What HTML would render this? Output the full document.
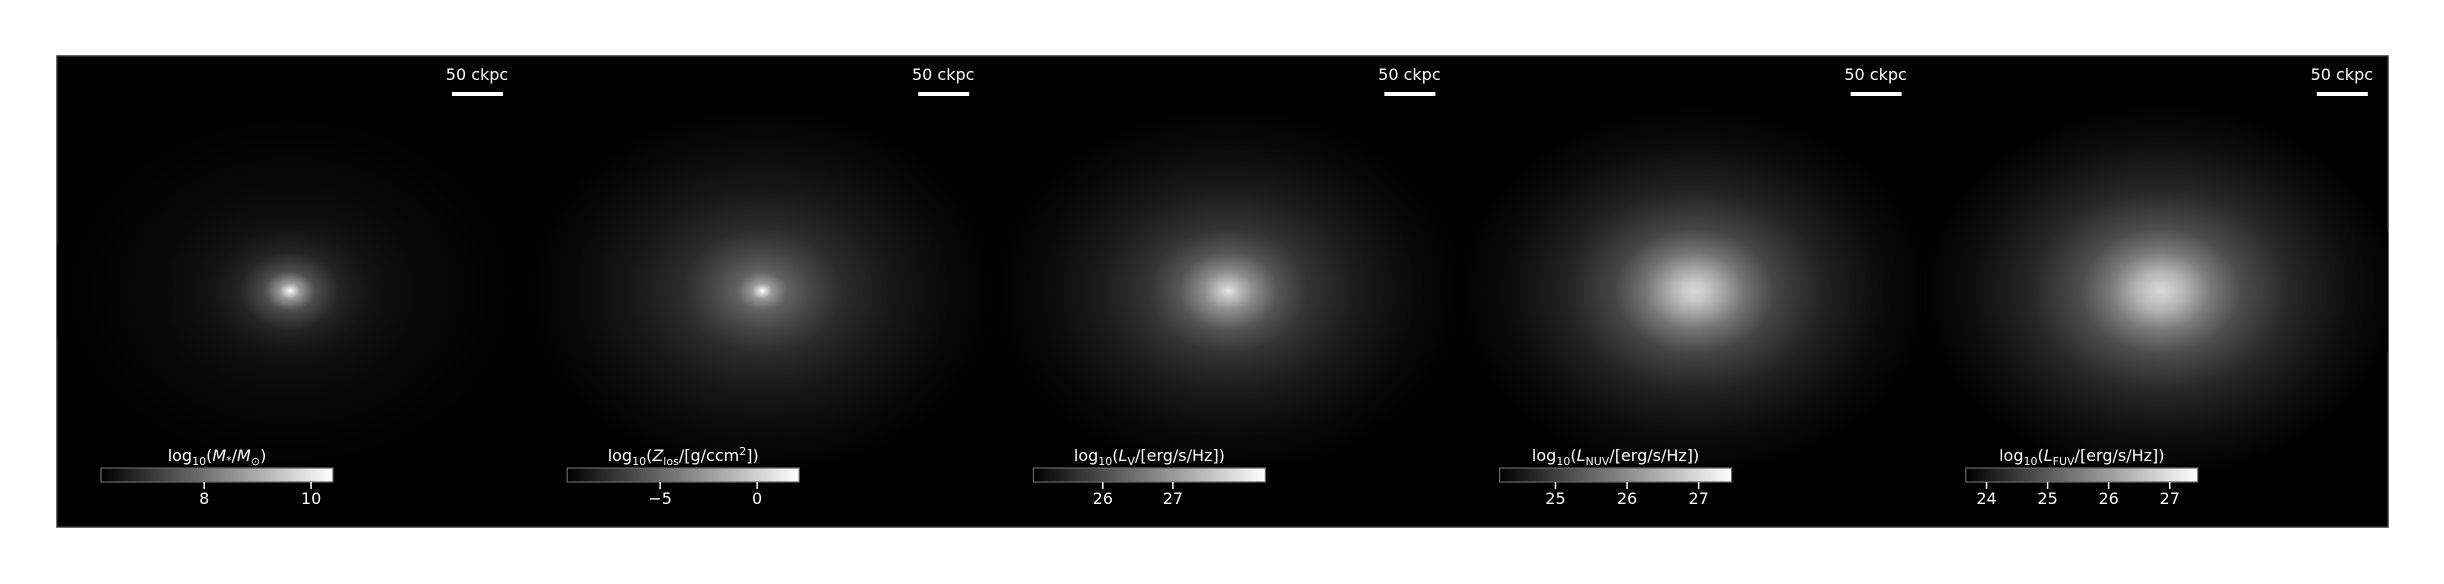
<!DOCTYPE html>
<html><head><meta charset="utf-8"><style>
html,body{margin:0;padding:0;background:#fff;}
svg{display:block;}
text{font-family:"DejaVu Sans","Liberation Sans",sans-serif;fill:#fff;}
</style></head><body>
<svg id="fig" width="2444" height="584" viewBox="0 0 2444 584" xmlns="http://www.w3.org/2000/svg">
<defs id="defs">
<linearGradient id="cmap" x1="0" x2="1" y1="0" y2="0"><stop offset="0" stop-color="#000"/><stop offset="1" stop-color="#fff"/></linearGradient>
<clipPath id="panelclip"><rect x="0" y="0" width="466.2" height="471"/></clipPath>
</defs>
<rect x="57" y="56" width="2331" height="471" fill="#000" stroke="#333" stroke-width="1.5"/>
<g id="panels"></g>
</svg>
<script>
// panel data
const panelNames = ["stellar-mass","metal-column","v-band-luminosity","nuv-luminosity","fuv-luminosity"];
const profileRadii = [0, 10, 25, 50, 80, 130, 190, 240];
const profileP1 = [1.0, 0.6, 0.3, 0.14, 0.07, 0.03, 0.01, 0];
const profileP2 = [1.0, 0.6, 0.38, 0.27, 0.17, 0.09, 0.03, 0];
const profileP3 = [0.9, 0.75, 0.55, 0.33, 0.2, 0.1, 0.03, 0];
const profileP4 = [0.85, 0.8, 0.68, 0.45, 0.27, 0.13, 0.04, 0];
const profileP5 = [0.85, 0.8, 0.7, 0.48, 0.3, 0.15, 0.05, 0];
const profiles = [profileP1, profileP2, profileP3, profileP4, profileP5];
const cbarMin = [6.07, -9.79, 25.01, 24.22, 23.66];
const cbarMax = [10.41, 2.17, 28.32, 27.46, 27.46];
const tickVals1 = [8, 10];
const tickVals2 = [-5, 0];
const tickVals3 = [26, 27];
const tickVals4 = [25, 26, 27];
const tickVals5 = [24, 25, 26, 27];
const tickLabels1 = ["8", "10"];
const tickLabels2 = ["\u22125", "0"];
const tickLabels3 = ["26", "27"];
const tickLabels4 = ["25", "26", "27"];
const tickLabels5 = ["24", "25", "26", "27"];
const tickVals = [tickVals1, tickVals2, tickVals3, tickVals4, tickVals5];
const tickLabels = [tickLabels1, tickLabels2, tickLabels3, tickLabels4, tickLabels5];

const NS = "http://www.w3.org/2000/svg";
const svg = document.getElementById("panels");
const defs = document.getElementById("defs");
const X0 = 57, PW = 466.2, Y0 = 56;
function mk(tag, attrs, parent){const e=document.createElementNS(NS,tag);for(const k in attrs)e.setAttribute(k,attrs[k]);parent.appendChild(e);return e;}
const labelsHTML = [
 'log<tspan font-size="11" dy="4">10</tspan><tspan dy="-4">(</tspan><tspan font-style="italic">M</tspan><tspan font-size="11" dy="3">*</tspan><tspan dy="-3">/</tspan><tspan font-style="italic">M</tspan><tspan font-size="11" dy="4">⊙</tspan><tspan dy="-4">)</tspan>',
 'log<tspan font-size="11" dy="4">10</tspan><tspan dy="-4">(</tspan><tspan font-style="italic">Z</tspan><tspan font-size="11" dy="4">los</tspan><tspan dy="-4">/[g/ccm</tspan><tspan font-size="11" dy="-6">2</tspan><tspan dy="6">])</tspan>',
 'log<tspan font-size="11" dy="4">10</tspan><tspan dy="-4">(</tspan><tspan font-style="italic">L</tspan><tspan font-size="11" dy="4">V</tspan><tspan dy="-4">/[erg/s/Hz])</tspan>',
 'log<tspan font-size="11" dy="4">10</tspan><tspan dy="-4">(</tspan><tspan font-style="italic">L</tspan><tspan font-size="11" dy="4">NUV</tspan><tspan dy="-4">/[erg/s/Hz])</tspan>',
 'log<tspan font-size="11" dy="4">10</tspan><tspan dy="-4">(</tspan><tspan font-style="italic">L</tspan><tspan font-size="11" dy="4">FUV</tspan><tspan dy="-4">/[erg/s/Hz])</tspan>'
];
for(let i=0;i<5;i++){
  const ox = X0 + PW*i;
  const g = mk("g",{transform:`translate(${ox},${Y0})`},svg);
  
  
  const gid = "grad"+i;
  const rMax = profileRadii[profileRadii.length-1];
  const rg = mk("radialGradient",{id:gid,cx:"0.5",cy:"0.5",r:"0.5"},defs);
  profiles[i].forEach((v,k)=>{
    const c = Math.round(255*v);
    mk("stop",{offset:(profileRadii[k]/rMax).toFixed(3),"stop-color":`rgb(${c},${c},${c})`},rg);
  });
  const cg = mk("g",{"clip-path":"url(#panelclip)"},g);
  const blob = mk("ellipse",{cx:233+(i>0?6:0),cy:235,rx:rMax,ry:rMax*0.78,fill:`url(#${gid})`},cg);
  
  
  const st = mk("text",{x:420,y:24,"font-size":16,"text-anchor":"middle"},g);
  st.textContent = "50 ckpc";
  
  
  const sb = mk("rect",{x:395,y:36,width:51,height:4,fill:"#fff"},g);
  
  
  const cbx=44, cbw=232, cby=412, cbh=14;
  const cb = mk("rect",{x:cbx,y:cby,width:cbw,height:cbh,fill:"url(#cmap)",stroke:"#666","stroke-width":1.2},g);
  
  
  const lab = mk("text",{x:cbx+cbw/2,y:405,"font-size":16,"text-anchor":"middle"},g);
  lab.innerHTML = labelsHTML[i];
  
  
  const sx = v => cbx + (v-cbarMin[i])/(cbarMax[i]-cbarMin[i])*cbw;
  tickVals[i].forEach((v,k)=>{
    const x = sx(v);
    const t = mk("line",{x1:x,x2:x,y1:cby+cbh,y2:cby+cbh+7,stroke:"#fff","stroke-width":1.5},g);
    
    
    const tl = mk("text",{x:x,y:448,"font-size":16,"text-anchor":"middle"},g);
    tl.textContent = tickLabels[i][k];
    
    
  });
}
</script>
</body></html>
